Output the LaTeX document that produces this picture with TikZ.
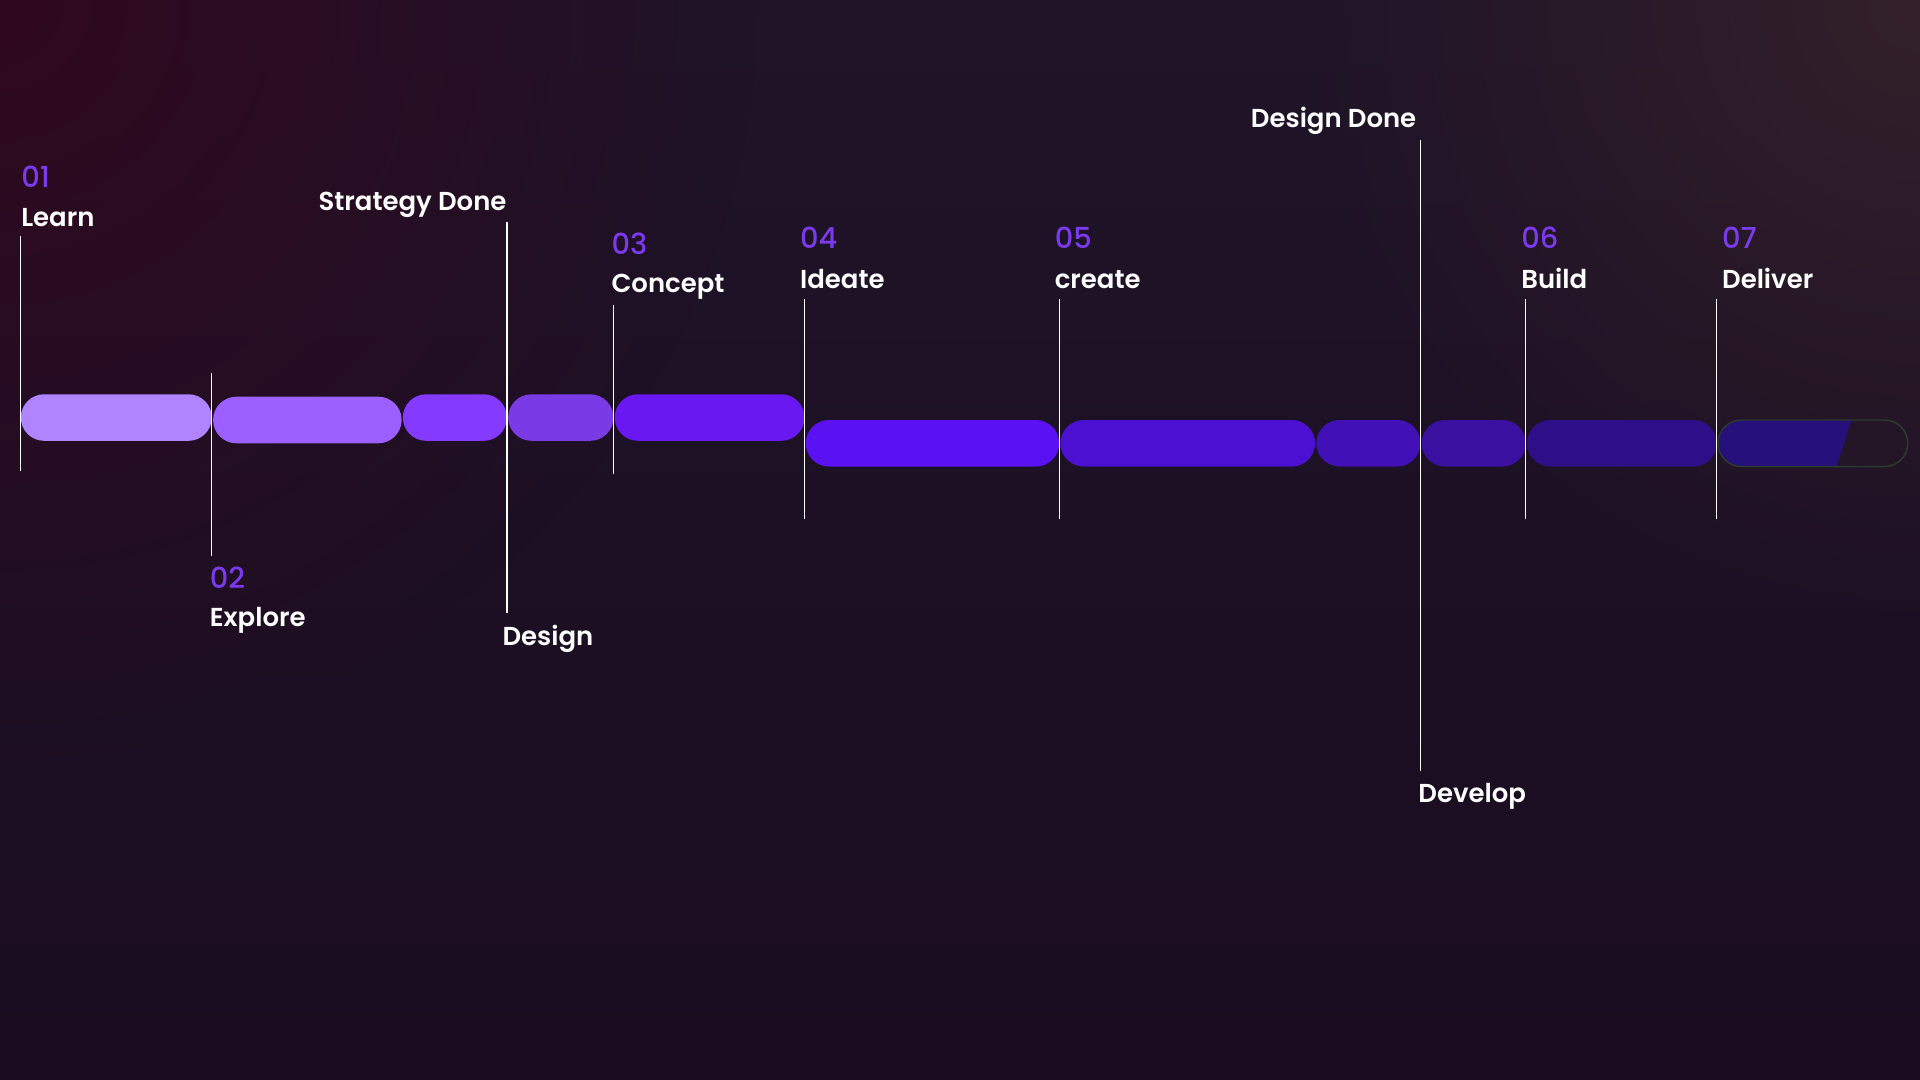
\documentclass[tikz,border=0pt]{standalone}
\usepackage{fontspec}
\setmainfont{Poppins}
\newfontfamily\labf{Poppins SemiBold}
\newfontfamily\numf{Poppins Medium}
\usetikzlibrary{fadings}
\definecolor{bgtop}{HTML}{1F1428}
\definecolor{bgbot}{HTML}{1B0C20}
\definecolor{tlcol}{HTML}{30081F}
\definecolor{trcol}{HTML}{33202A}
\definecolor{numc}{HTML}{7B3AEE}
\definecolor{cA}{HTML}{B083FF}
\definecolor{cB}{HTML}{9B60FF}
\definecolor{cC}{HTML}{853AFF}
\definecolor{cD}{HTML}{7A3AE6}
\definecolor{cE}{HTML}{6A18F2}
\definecolor{cF}{HTML}{5A12F2}
\definecolor{cG}{HTML}{4C10D2}
\definecolor{cH}{HTML}{4110B6}
\definecolor{cI}{HTML}{3A10A0}
\definecolor{cJ}{HTML}{2F0F88}
\definecolor{cK}{HTML}{26107A}
\definecolor{outl}{HTML}{2C3A30}
\tikzfading[name=radfade, inner color=transparent!0, outer color=transparent!100]
\tikzset{
  pill/.style={rectangle, rounded corners=9.5pt, minimum height=19pt, inner sep=0pt, draw=none},
  num/.style={font=\numf\fontsize{11.8}{13}\selectfont, text=numc, inner sep=0pt, anchor=base west},
  lab/.style={font=\labf\fontsize{10.6}{12}\selectfont, text=white, inner sep=0pt, anchor=base west},
  tick/.style={draw=white, line width=0.5pt},
}
\begin{document}
\begin{tikzpicture}[x=0.5pt,y=-0.5pt]
\useasboundingbox (0,0) rectangle (1568,882);
% background
\shade[top color=bgtop, bottom color=bgbot] (0,0) rectangle (1568,882);
\begin{scope}
\clip (0,0) rectangle (1568,882);
\fill[tlcol, path fading=radfade] (0,0) circle (620);
\fill[trcol, path fading=radfade] (1568,0) circle (520);
\end{scope}
% bars
\node[pill, fill=cA, minimum width=78pt] (b1) at (95,341) {};
\node[pill, fill=cB, minimum width=77pt] (b2) at (251,343) {};
\node[pill, fill=cC, minimum width=42.5pt] (b3) at (371.5,341) {};
\node[pill, fill=cD, minimum width=43pt] (b4) at (458,341) {};
\node[pill, fill=cE, minimum width=77.5pt] (b5) at (579.5,341) {};
\node[pill, fill=cF, minimum width=103.5pt] (b6) at (761.5,362) {};
\node[pill, fill=cG, minimum width=104pt] (b7) at (970,362) {};
\node[pill, fill=cH, minimum width=42.5pt] (b8) at (1117.5,362) {};
\node[pill, fill=cI, minimum width=42.5pt] (b9) at (1203.5,362) {};
\node[pill, fill=cJ, minimum width=77.5pt] (b10) at (1324.5,362) {};
\begin{scope}
\clip[rounded corners=9.5pt] (1403,343) rectangle (1558,381);
\fill[cK] (1403,343) -- (1512,343) -- (1500,381) -- (1403,381) -- cycle;
\end{scope}
\node[pill, draw=outl, line width=0.6pt, minimum width=77.5pt] (b11) at (1480.5,362) {};
% tick line end points
\coordinate (l1a) at (17,193);   \coordinate (l1b) at (17,385);
\coordinate (l2a) at (173,305);  \coordinate (l2b) at (173,454);
\coordinate (l3a) at (414,181);  \coordinate (l3b) at (414,501);
\coordinate (l4a) at (501,249);  \coordinate (l4b) at (501,387);
\coordinate (l5a) at (657,244);  \coordinate (l5b) at (657,424);
\coordinate (l6a) at (865,244);  \coordinate (l6b) at (865,424);
\coordinate (l7a) at (1160,114); \coordinate (l7b) at (1160,630);
\coordinate (l8a) at (1246,244); \coordinate (l8b) at (1246,424);
\coordinate (l9a) at (1402,244); \coordinate (l9b) at (1402,424);
\draw[tick] (l1a) -- (l1b);
\draw[tick] (l2a) -- (l2b);
\draw[tick] (l3a) -- (l3b);
\draw[tick] (l4a) -- (l4b);
\draw[tick] (l5a) -- (l5b);
\draw[tick] (l6a) -- (l6b);
\draw[tick] (l7a) -- (l7b);
\draw[tick] (l8a) -- (l8b);
\draw[tick] (l9a) -- (l9b);
% labels
\node[num] (n1) at (17,153) {01};
\node[lab] (t1) at (17,185) {Learn};
\node[lab, anchor=base east] (t3) at (414,172) {Strategy Done};
\node[num] (n2) at (171,481) {02};
\node[lab] (t2) at (171,512) {Explore};
\node[lab] (t4) at (410,527) {Design};
\node[num] (n3) at (499,207.5) {03};
\node[lab] (t5) at (499,239) {Concept};
\node[num] (n4) at (653,203) {04};
\node[lab] (t6) at (653,236) {Ideate};
\node[num] (n5) at (861,203) {05};
\node[lab] (t7) at (861,236) {create};
\node[lab, anchor=base east] (t8) at (1157,104.5) {Design Done};
\node[lab] (t9) at (1158,655) {Develop};
\node[num] (n6) at (1242,203) {06};
\node[lab] (t10) at (1242,236) {Build};
\node[num] (n7) at (1406,203) {07};
\node[lab] (t11) at (1406,236) {Deliver};
\end{tikzpicture}
\end{document}
